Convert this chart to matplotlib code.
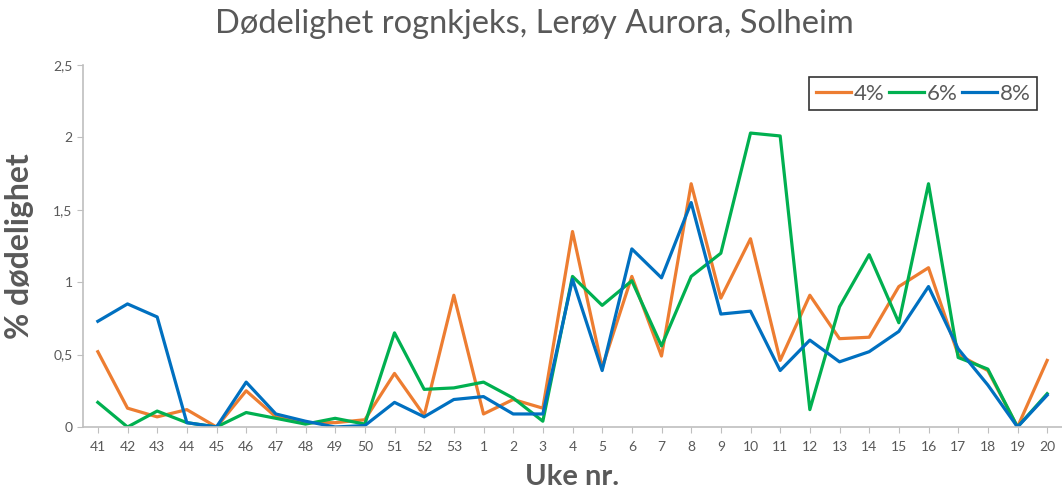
import numpy as np
import matplotlib.pyplot as plt

# Ukenummer (uke 41-53 i fjor, 1-20 i år)
weeks = [str(w) for w in range(41, 54)] + [str(w) for w in range(1, 21)]

mort_4 = [0.52, 0.13, 0.07, 0.12, 0.00, 0.25, 0.07, 0.03, 0.03, 0.05, 0.37, 0.08, 0.91,
          0.09, 0.19, 0.13, 1.35, 0.41, 1.04, 0.49, 1.68, 0.89, 1.30, 0.46, 0.91, 0.61,
          0.62, 0.97, 1.10, 0.50, 0.39, 0.00, 0.46]
mort_6 = [0.17, 0.00, 0.11, 0.03, 0.00, 0.10, 0.06, 0.02, 0.06, 0.02, 0.65, 0.26, 0.27,
          0.31, 0.20, 0.04, 1.04, 0.84, 1.01, 0.56, 1.04, 1.20, 2.03, 2.01, 0.12, 0.83,
          1.19, 0.72, 1.68, 0.48, 0.40, 0.00, 0.23]
mort_8 = [0.73, 0.85, 0.76, 0.03, 0.00, 0.31, 0.09, 0.04, 0.00, 0.01, 0.17, 0.07, 0.19,
          0.21, 0.09, 0.09, 1.02, 0.39, 1.23, 1.03, 1.55, 0.78, 0.80, 0.39, 0.60, 0.45,
          0.52, 0.66, 0.97, 0.54, 0.29, 0.00, 0.22]

yticks = [0, 0.5, 1, 1.5, 2, 2.5]
ytick_labels = ['0', '0,5', '1', '1,5', '2', '2,5']

plt.rcParams['font.family'] = ['Lato', 'DejaVu Sans']
grey = '#595959'

fig = plt.figure(figsize=(10.62, 4.97), dpi=100)
ax = fig.add_axes([83 / 1062, 1 - 427 / 497, 979 / 1062, 362 / 497])

x = np.arange(len(weeks))
ax.plot(x, mort_4, color='#ED7D31', lw=2.3, label='4%')
ax.plot(x, mort_6, color='#00B050', lw=2.3, label='6%')
ax.plot(x, mort_8, color='#0070C0', lw=2.3, label='8%')

ax.set_xlim(-0.5, len(weeks) - 0.5)
ax.set_ylim(0, 2.5)
ax.set_xticks(x)
ax.set_xticklabels(weeks)
ax.set_yticks(yticks)
ax.set_yticklabels(ytick_labels)
ax.tick_params(axis='both', colors='#BFBFBF', labelcolor=grey, labelsize=10, length=4)
ax.tick_params(axis='x', pad=6)

for side in ['top', 'right']:
    ax.spines[side].set_visible(False)
for side in ['left', 'bottom']:
    ax.spines[side].set_color('#BFBFBF')
    ax.spines[side].set_linewidth(1.2)

ax.set_xlabel('Uke nr.', fontsize=21, fontweight='bold', color=grey, labelpad=8)
ax.set_ylabel('% dødelighet', fontsize=23, fontweight='bold', color=grey, labelpad=14)
fig.text(0.503, 0.952, 'Dødelighet rognkjeks, Lerøy Aurora, Solheim', ha='center', va='center',
         fontsize=23.5, color=grey)

leg = ax.legend(loc='upper right', ncol=3, frameon=True, fancybox=False,
                fontsize=16, handlelength=1.6, handletextpad=0.1, columnspacing=0.2,
                borderpad=0.3, borderaxespad=0, labelcolor=grey)
leg.get_frame().set_edgecolor('black')
leg.get_frame().set_linewidth(1.2)
leg.set_bbox_to_anchor((1037 / 1062, 1 - 77 / 497), transform=fig.transFigure)

fig.savefig('out.png', dpi=100)
